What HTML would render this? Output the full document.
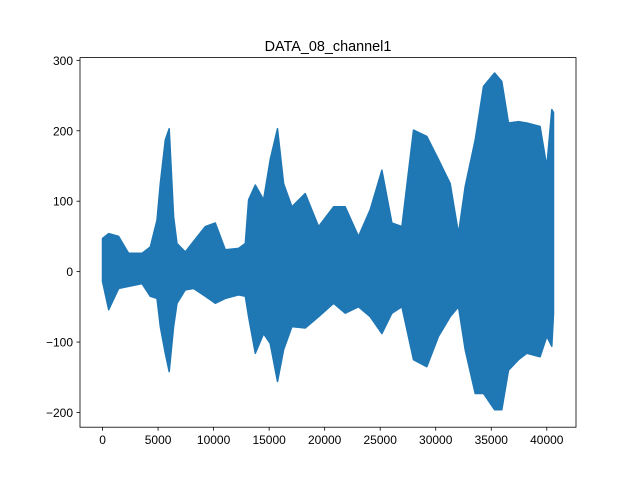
<!DOCTYPE html>
<html><head><meta charset="utf-8"><style>
body{margin:0;background:#fff}
svg text{font-family:"Liberation Sans","DejaVu Sans",sans-serif;fill:#000}
</style></head><body>
<svg id="chart" width="640" height="480" viewBox="0 0 640 480" xmlns="http://www.w3.org/2000/svg">
<rect width="640" height="480" fill="#fff"/>
<text x="328" y="51" font-size="14.4" text-anchor="middle">DATA_08_channel1</text>
<g id="plot"></g>
<g id="axes"></g>
</svg>
<script>
const samples = [0,550,1450,2350,3550,4300,4900,5200,5650,6000,6400,6700,7450,8200,9250,10150,11050,12250,12850,13150,13750,14500,15100,15750,16300,17050,18250,19450,20800,21850,23050,24100,25150,26050,26950,28000,29200,30250,31300,32050,32650,33550,34300,35300,35950,36550,37450,38200,39400,40000,40450,40600];
const upper = [47,54,50,26,26,35,73,125,187,203,78,40,28,43,64,69,31,33,40,102,123,102,159,203,125,92,111,64,92,92,50,88,144,69,64,201,192,159,125,54,121,187,263,282,270,211,213,211,206,149,230,226];
const lower = [-14,-54,-24,-21,-17,-35,-38,-78,-116,-142,-78,-45,-26,-24,-35,-45,-38,-33,-35,-64,-116,-88,-102,-156,-111,-78,-80,-64,-45,-59,-50,-64,-88,-59,-50,-125,-135,-92,-64,-50,-111,-173,-173,-196,-196,-140,-125,-116,-121,-92,-106,-60];
const xTicks = [0,5000,10000,15000,20000,25000,30000,35000,40000];
const yTicks = [-200,-100,0,100,200,300];

const L=80,R=576,T=57.6,B=427.2;
const xMin=-2030,xMax=42630,yMin=-220.9,yMax=303.9;
const sx=v=>L+(v-xMin)/(xMax-xMin)*(R-L);
const sy=v=>B-(v-yMin)/(yMax-yMin)*(B-T);
const NS="http://www.w3.org/2000/svg";
const plot=document.getElementById('plot'), axes=document.getElementById('axes');

let pts=[];
for(let i=0;i<samples.length;i++) pts.push(sx(samples[i]).toFixed(1)+','+sy(upper[i]).toFixed(1));
for(let i=samples.length-1;i>=0;i--) pts.push(sx(samples[i]).toFixed(1)+','+sy(lower[i]).toFixed(1));
const poly=document.createElementNS(NS,'polygon');
poly.setAttribute('points',pts.join(' '));
poly.setAttribute('fill','#1f77b4');
poly.setAttribute('stroke','#1f77b4');
poly.setAttribute('stroke-width','1.5');
poly.setAttribute('stroke-linejoin','round');


plot.appendChild(poly);

const frame=document.createElementNS(NS,'rect');
frame.setAttribute('x',L);frame.setAttribute('y',T);
frame.setAttribute('width',R-L);frame.setAttribute('height',B-T);
frame.setAttribute('fill','none');frame.setAttribute('stroke','#000');frame.setAttribute('stroke-width','0.8');


axes.appendChild(frame);

xTicks.forEach(v=>{
  const x=sx(v);
  const t=document.createElementNS(NS,'line');
  t.setAttribute('x1',x);t.setAttribute('x2',x);t.setAttribute('y1',B);t.setAttribute('y2',B+3.5);
  t.setAttribute('stroke','#000');t.setAttribute('stroke-width','0.8');
  
  
  axes.appendChild(t);
  const tx=document.createElementNS(NS,'text');
  tx.setAttribute('x',x);tx.setAttribute('y',B+17);tx.setAttribute('font-size','12');tx.setAttribute('text-anchor','middle');
  tx.textContent=String(v);
  
  
  axes.appendChild(tx);
});
yTicks.forEach(v=>{
  const y=sy(v);
  const t=document.createElementNS(NS,'line');
  t.setAttribute('x1',L-3.5);t.setAttribute('x2',L);t.setAttribute('y1',y);t.setAttribute('y2',y);
  t.setAttribute('stroke','#000');t.setAttribute('stroke-width','0.8');
  
  
  axes.appendChild(t);
  const tx=document.createElementNS(NS,'text');
  tx.setAttribute('x',L-7);tx.setAttribute('y',y+4.5);tx.setAttribute('font-size','12');tx.setAttribute('text-anchor','end');
  tx.textContent=(v<0?'\u2212':'')+Math.abs(v);
  
  
  axes.appendChild(tx);
});
</script>
</body></html>
